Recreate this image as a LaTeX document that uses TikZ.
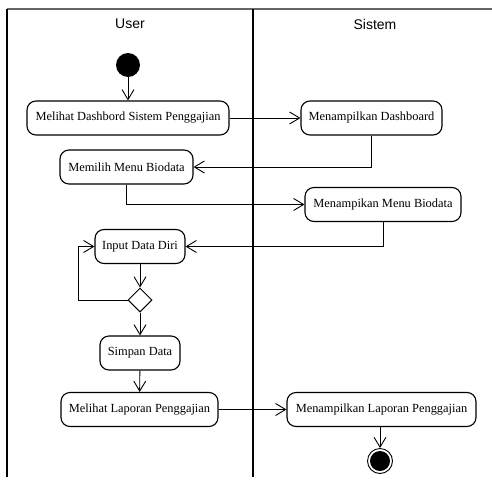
\documentclass[tikz,border=0pt]{standalone}
\usepackage{fontspec}
\setmainfont{Liberation Serif}
\newfontfamily\lanefont{Liberation Sans}
\usetikzlibrary{arrows.meta,shapes.geometric}
\begin{document}
\begin{tikzpicture}[x=1pt,y=-1pt,
  act/.style={draw, line width=1.1pt, rounded corners=9pt, minimum height=34pt,
    inner sep=0pt, font=\fontsize{12.4}{14}\selectfont},
  flow/.style={line width=0.9pt, -{Straight Barb[length=10pt,width=12pt,line width=0.9pt]}},
  lanetitle/.style={font=\lanefont\fontsize{14}{16}\selectfont, inner sep=0pt}
]
\useasboundingbox (0,0) rectangle (492,479);
% swimlane frame
\draw[line width=1.5pt, black!60] (7,9) -- (492,9);
\draw[line width=1.2pt] (7,9) -- (7,477);
\draw[line width=1.8pt] (253,9) -- (253,477);
\node[lanetitle] (user) at (130,24) {User};
\node[lanetitle] (sistem) at (375,24) {Sistem};

% initial and final states
\node[circle, fill=black, minimum size=24pt, inner sep=0pt] (start) at (128,65) {};
\node[circle, draw, line width=0.9pt, minimum size=25pt, inner sep=0pt] (end) at (380,461) {};
\fill (end.center) circle (10pt);

% activities
\node[act, minimum width=202pt] (a1) at (128,118) {Melihat Dashbord Sistem Penggajian};
\node[act, minimum width=141pt] (s1) at (371.5,118) {Menampilkan Dashboard};
\node[act, minimum width=133pt] (a2) at (126.5,167) {Memilih Menu Biodata};
\node[act, minimum width=156pt] (s2) at (383,204.5) {Menampikan Menu Biodata};
\node[act, minimum width=90pt] (a3) at (140,246.5) {Input Data Diri};
\node[diamond, draw, line width=1pt, minimum size=24pt, inner sep=0pt] (d) at (140,300) {};
\node[act, minimum width=80pt] (a4) at (140,353) {Simpan Data};
\node[act, minimum width=157pt] (a5) at (139.5,409.5) {Melihat Laporan Penggajian};
\node[act, minimum width=189pt] (s3) at (381.5,409.5) {Menampilkan Laporan Penggajian};
\coordinate (loop) at (78,300);

% transitions
\draw[flow] (start) -- (a1);
\draw[flow] (a1) -- (s1);
\draw[flow] (s1.south) |- (a2.east);
\draw[flow] (a2.south) |- (s2.west);
\draw[flow] (s2.south) |- (a3.east);
\draw[flow] (a3) -- (d);
\draw[flow] (d.west) -- (loop) |- (a3.west);
\draw[flow] (d) -- (a4);
\draw[flow] (a4) -- (a5);
\draw[flow] (a5) -- (s3);
\draw[flow] (s3.south -| end) -- (end);
\end{tikzpicture}
\end{document}
